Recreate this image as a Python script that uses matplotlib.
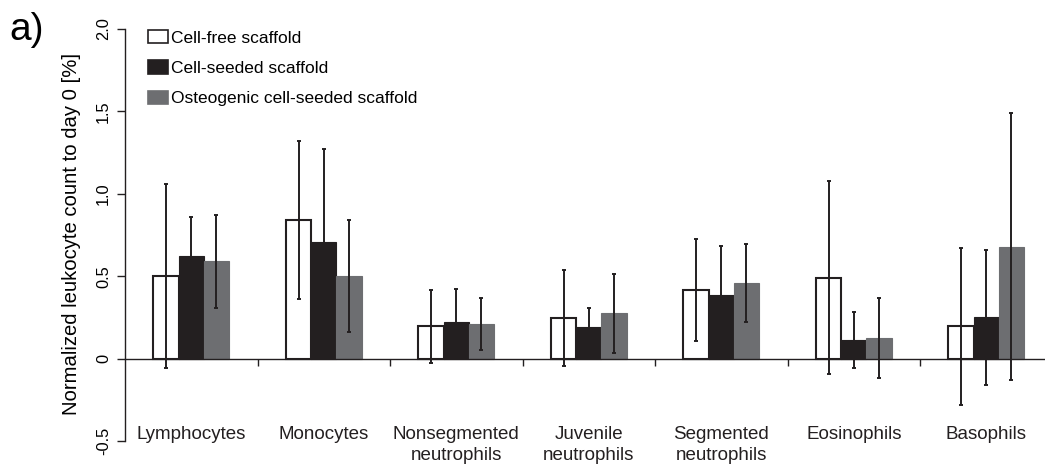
import matplotlib
matplotlib.use("Agg")
import matplotlib.pyplot as plt
import numpy as np
from matplotlib.patches import Patch

plt.rcParams["font.family"] = ["Liberation Sans", "DejaVu Sans"]

categories = ["Lymphocytes", "Monocytes", "Nonsegmented\nneutrophils",
              "Juvenile\nneutrophils", "Segmented\nneutrophils",
              "Eosinophils", "Basophils"]
series_names = ["Cell-free scaffold", "Cell-seeded scaffold",
                "Osteogenic cell-seeded scaffold"]
cell_free = [0.50, 0.84, 0.195, 0.245, 0.415, 0.49, 0.195]
cell_free_err = [0.56, 0.48, 0.22, 0.29, 0.31, 0.585, 0.475]
cell_seeded = [0.62, 0.71, 0.225, 0.19, 0.385, 0.11, 0.25]
cell_seeded_err = [0.24, 0.56, 0.20, 0.12, 0.30, 0.17, 0.41]
osteo_seeded = [0.59, 0.50, 0.21, 0.275, 0.46, 0.125, 0.68]
osteo_seeded_err = [0.28, 0.34, 0.16, 0.24, 0.235, 0.245, 0.81]
yticks = [-0.5, 0, 0.5, 1.0, 1.5, 2.0]
ytick_labels = ["-0.5", "0", "0.5", "1.0", "1.5", "2.0"]

W, H = 1045, 468
fig = plt.figure(figsize=(W / 100, H / 100), dpi=100)
ax = fig.add_axes([125 / W, 1 - 441 / H, 927.5 / W, 412 / H])

x = np.arange(len(categories)) + 0.5
bw = 0.19
face = ["white", "#231f20", "#6d6e71"]
edge = ["#231f20", "#231f20", "#6d6e71"]
vals = [cell_free, cell_seeded, osteo_seeded]
errs = [cell_free_err, cell_seeded_err, osteo_seeded_err]
for k in range(3):
    pos = x + (k - 1) * bw
    ax.bar(pos, vals[k], width=bw, color=face[k], edgecolor=edge[k],
           linewidth=1.5 if k == 0 else 0.8, zorder=2)
    ax.errorbar(pos, vals[k], yerr=errs[k], fmt="none", ecolor="#231f20",
                elinewidth=1.4, capsize=1.6, capthick=1.4, zorder=3)

ax.set_xlim(0, 7)
ax.set_ylim(-0.5, 2.0)
ax.spines["top"].set_visible(False)
ax.spines["right"].set_visible(False)
ax.spines["bottom"].set_position(("data", 0))
for s in ("left", "bottom"):
    ax.spines[s].set_color("#231f20")
    ax.spines[s].set_linewidth(1.0)

ax.set_xticks(np.arange(1, 7))
ax.set_xticklabels([])
ax.tick_params(axis="x", direction="out", length=5, width=1.0, color="#231f20")
ax.set_yticks(yticks)
ax.set_yticklabels(ytick_labels, rotation=90, va="center", fontsize=11.8)
ax.tick_params(axis="y", direction="out", length=6, width=1.0, color="#231f20", pad=4)
ax.set_ylabel("Normalized leukocyte count to day 0 [%]", fontsize=14.6)
ax.yaxis.set_label_coords(-0.047, 0.503)

for xi, name in zip(x, categories):
    ax.text(xi, -0.41, name, ha="center", va="top", fontsize=13.5,
            color="#231f20", linespacing=1.26)

handles = [Patch(facecolor=face[k], edgecolor=edge[k], linewidth=1.2)
           for k in range(3)]
fig.legend(handles, series_names, loc="upper left",
           bbox_to_anchor=(148 / W, 1 - 30 / H), frameon=False, fontsize=12.5,
           handlelength=1.15, handleheight=0.8, handletextpad=0.2,
           labelspacing=0.84, borderpad=0, borderaxespad=0)

fig.text(9 / W, 1 - 30 / H, "a)", fontsize=28, va="center", ha="left")

fig.savefig("out.png", dpi=100)
